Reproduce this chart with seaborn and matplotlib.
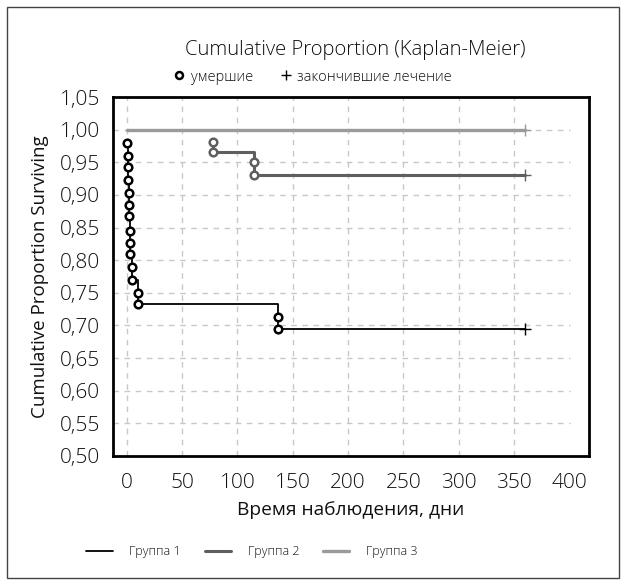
import matplotlib
matplotlib.use("Agg")
import matplotlib.pyplot as plt
from matplotlib.lines import Line2D
from matplotlib.patches import Rectangle
import seaborn as sns
import numpy as np

# --- data ---
g1_time = [0, 1, 1, 1, 2, 2, 2, 3, 3, 3, 5, 5, 10, 10, 137, 137]
g1_surv = [0.979, 0.960, 0.942, 0.923, 0.903, 0.885, 0.867, 0.845,
           0.827, 0.809, 0.789, 0.769, 0.749, 0.733, 0.713, 0.695]
g1_cens = 360

g2_time = [78, 78, 115, 115]
g2_surv = [0.981, 0.965, 0.950, 0.930]
g2_cens = 360

g3_time = [0]
g3_surv = [1.0]
g3_cens = 360

groups = ["Группа 1", "Группа 2", "Группа 3"]
colors = ["#000000", "#5f5f5f", "#9a9a9a"]
widths = [1.3, 2.2, 2.4]

xticks = [0, 50, 100, 150, 200, 250, 300, 350, 400]
yticks = [0.50, 0.55, 0.60, 0.65, 0.70, 0.75, 0.80, 0.85, 0.90, 0.95, 1.00, 1.05]


def set_style():
	sns.set_style("white")
	plt.rcParams.update({
		"font.family": ["Open Sans", "DejaVu Sans"],
		"font.weight": 300,
		"text.color": "#111111",
		"axes.labelcolor": "#111111",
		"xtick.color": "#111111",
		"ytick.color": "#111111",
		"axes.linewidth": 2.0,
		"axes.edgecolor": "black",
	})


def draw_group(ax, times, surv, cens, color, lw, circles=True):
	xs = list(times) + [cens]
	ys = list(surv) + [surv[-1]]
	sns.lineplot(x=xs, y=ys, ax=ax, estimator=None, sort=False,
				 drawstyle="steps-post", color=color, linewidth=lw, zorder=3)
	if circles:
		sns.scatterplot(x=times, y=surv, ax=ax, marker="o", s=30,
						facecolor="white", edgecolor=color, linewidth=1.8, zorder=4)
	ax.plot([cens], [surv[-1]], marker="+", ms=9, mew=1.0, color=color,
			linestyle="none", zorder=4)


if __name__ == '__main__':
	set_style()
	fig = plt.figure(figsize=(6.26, 5.85), dpi=100)
	ax = fig.add_axes([112.5 / 626, (585 - 456) / 585, 476.5 / 626, 359 / 585])

	xlim = (-12.8, 417.6)
	ax.set_xlim(*xlim)
	ax.set_ylim(0.50, 1.05)

	# grid: dashed, horizontal lines stop at 400, vertical ones at 0..350
	grid_kw = dict(color="#c8c8c8", linewidth=1.0, linestyle=(0, (4, 4)), zorder=1)
	ax.hlines(yticks[1:-1], xlim[0], xticks[-1], **grid_kw)
	ax.vlines(xticks[:-1], 0.50, 1.05, **grid_kw)

	draw_group(ax, g3_time, g3_surv, g3_cens, colors[2], widths[2], circles=False)
	draw_group(ax, g2_time, g2_surv, g2_cens, colors[1], widths[1])
	draw_group(ax, g1_time, g1_surv, g1_cens, colors[0], widths[0])

	ax.set_xticks(xticks)
	ax.set_yticks(yticks)
	ax.set_yticklabels([f"{v:.2f}".replace(".", ",") for v in yticks])
	ax.tick_params(length=0, labelsize=15)
	ax.tick_params(axis="x", pad=12)
	ax.tick_params(axis="y", pad=9)
	for sp in ax.spines.values():
		sp.set_visible(True)
		sp.set_linewidth(2.0)

	ax.set_xlabel("Время наблюдения, дни", fontsize=13.8, labelpad=6)
	ax.set_ylabel("Cumulative Proportion Surviving", fontsize=13.5, labelpad=8)

	fig.text(355 / 626, 1 - 50 / 585, "Cumulative Proportion (Kaplan-Meier)",
			 ha="center", va="center", fontsize=14.6)

	top_handles = [
		Line2D([], [], marker="o", color="black", mfc="white", mew=1.8, ms=5, linestyle="none"),
		Line2D([], [], marker="+", color="black", mew=1.0, ms=7, linestyle="none"),
	]
	fig.legend(top_handles, ["умершие", "закончившие лечение"], ncol=2, frameon=False,
			   loc="center", bbox_to_anchor=(313 / 626, 1 - 77 / 585),
			   fontsize=10.5, handlelength=0.7, handletextpad=0.45, columnspacing=1.9)

	bottom_handles = [Line2D([], [], color=c, linewidth=w) for c, w in zip(colors, widths)]
	fig.legend(bottom_handles, groups, ncol=3, frameon=False,
			   loc="center", bbox_to_anchor=(252 / 626, 1 - 552 / 585),
			   fontsize=9, handlelength=2.1, handletextpad=1.35, columnspacing=1.9)

	fig.patches.append(Rectangle((7 / 626, 7 / 585), 612 / 626, 571 / 585,
								 transform=fig.transFigure, fill=False,
								 edgecolor="#444444", linewidth=1.0))

	fig.savefig("out.png", dpi=100)
